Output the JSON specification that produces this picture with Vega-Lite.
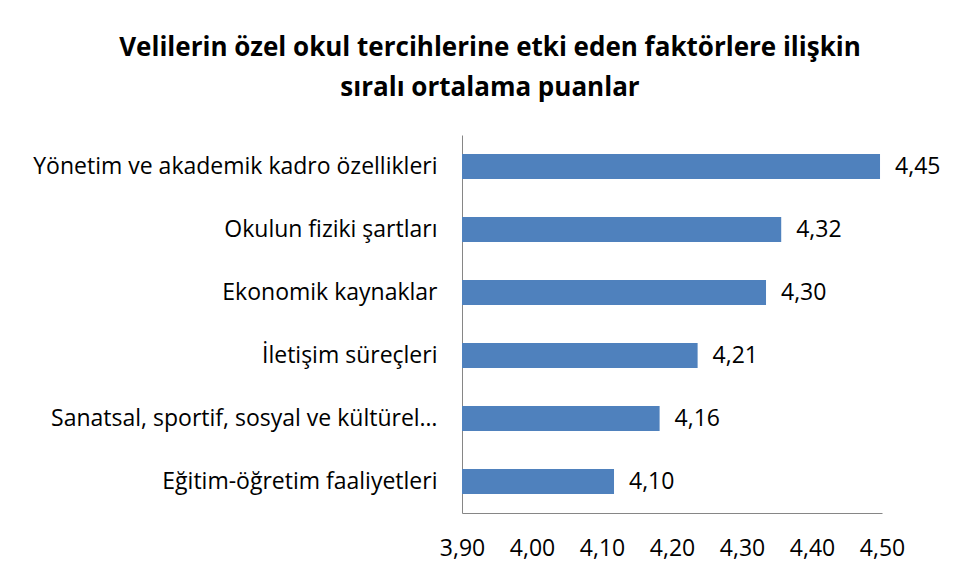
{
  "$schema": "https://vega.github.io/schema/vega-lite/v6.json",
  "width": 420,
  "height": 378,
  "autosize": "none",
  "padding": {"left": 462, "top": 135, "right": 78, "bottom": 67},
  "background": "white",
  "data": {"values": [
    {"faktor": "Yönetim ve akademik kadro özellikleri", "puan": 4.45},
    {"faktor": "Okulun fiziki şartları", "puan": 4.32},
    {"faktor": "Ekonomik kaynaklar", "puan": 4.30},
    {"faktor": "İletişim süreçleri", "puan": 4.21},
    {"faktor": "Sanatsal, sportif, sosyal ve kültürel…", "puan": 4.16},
    {"faktor": "Eğitim-öğretim faaliyetleri", "puan": 4.10}
  ]},
  "title": {
    "text": ["Velilerin özel okul tercihlerine etki eden faktörlere ilişkin", "sıralı ortalama puanlar"],
    "font": "Open Sans",
    "fontSize": 26,
    "fontWeight": "bold",
    "color": "#000000",
    "lineHeight": 40,
    "anchor": "middle",
    "dx": -182,
    "offset": 34
  },
  "encoding": {
    "y": {
      "field": "faktor", "type": "nominal", "sort": null,
      "scale": {"paddingInner": 0.6, "paddingOuter": 0.3},
      "axis": {"title": null, "ticks": false, "domainColor": "#868686", "labelPadding": 25, "labelFontSize": 23, "labelFont": "Open Sans", "labelColor": "#000000", "labelLimit": 500}
    }
  },
  "layer": [
    {
      "mark": {"type": "bar", "color": "#4F81BD", "clip": true},
      "encoding": {
        "x": {"field": "puan", "type": "quantitative", "scale": {"domain": [3.9, 4.4526], "zero": false, "nice": false}, "axis": null}
      }
    },
    {
      "mark": {"type": "text", "align": "left", "baseline": "middle", "dx": 15, "fontSize": 23, "font": "Open Sans", "color": "#000000"},
      "encoding": {
        "x": {"field": "puan", "type": "quantitative", "scale": {"domain": [3.9, 4.4526], "zero": false, "nice": false}, "axis": null},
        "text": {"field": "puan", "type": "quantitative", "format": ".2f"}
      }
    },
    {
      "mark": {"type": "point", "opacity": 0},
      "encoding": {
        "x": {"field": "puan", "type": "quantitative", "scale": {"domain": [3.9, 4.5], "zero": false, "nice": false},
          "axis": {"title": null, "ticks": false, "grid": false, "domainColor": "#868686", "labelPadding": 24, "labelFontSize": 23, "labelFont": "Open Sans", "labelColor": "#000000", "values": [3.9, 4.0, 4.1, 4.2, 4.3, 4.4, 4.5], "format": ".2f", "labelFlush": false}}
      }
    }
  ],
  "resolve": {"scale": {"x": "independent"}},
  "config": {
    "view": {"stroke": null},
    "locale": {"number": {"decimal": ",", "thousands": ".", "grouping": [3], "currency": ["", " TL"]}}
  }
}
